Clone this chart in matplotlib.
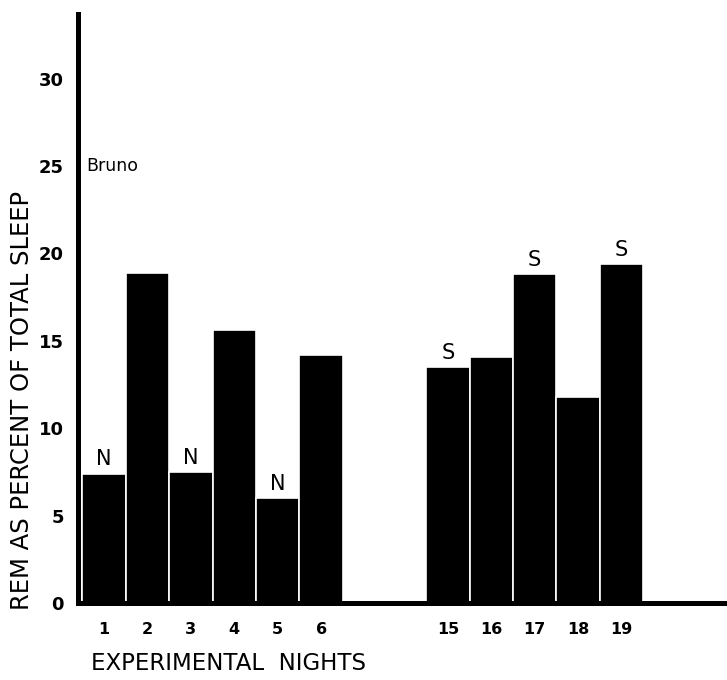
import matplotlib.pyplot as plt

# ── Data ─────────────────────────────────────────────────────────────────────
nights_a = ["1", "2", "3", "4", "5", "6"]
rem_a    = [7.4, 18.9, 7.5, 15.6, 6.0, 14.2]
marks_a  = ["N", "", "N", "", "N", ""]

nights_b = ["15", "16", "17", "18", "19"]
rem_b    = [13.5, 14.1, 18.8, 11.8, 19.4]
marks_b  = ["S", "", "S", "", "S"]

GAP = 2.92   # blank space between the two groups, in bar widths

pos = list(range(len(nights_a))) + [len(nights_a) - 1 + GAP + i for i in range(len(nights_b))]
labels = nights_a + nights_b
values = rem_a + rem_b
marks  = marks_a + marks_b

# ── Figure ───────────────────────────────────────────────────────────────────
fig = plt.figure(figsize=(7.27, 6.8), dpi=100)
ax = fig.add_axes([78 / 727, 77 / 680, 649 / 727, 589 / 680])

ax.bar(pos, values, width=1.0, color="black", edgecolor="white", linewidth=1.2)

for x, v, m in zip(pos, values, marks):
    if m:
        ax.text(x, v + 0.25, m, ha="center", va="bottom", fontsize=15)

ax.set_xlim(-0.6, 14.35)
ax.set_ylim(0, 33.7)

ax.set_yticks([0, 5, 10, 15, 20, 25, 30])
ax.set_yticklabels(["0", "5", "10", "15", "20", "25", "30"], fontweight="bold", fontsize=13)
ax.set_xticks(pos)
ax.set_xticklabels(labels, fontweight="bold", fontsize=11.5)
ax.tick_params(axis="both", length=0)
ax.tick_params(axis="y", pad=10)
ax.tick_params(axis="x", pad=14)

for side in ("top", "right"):
    ax.spines[side].set_visible(False)
ax.spines["left"].set_linewidth(3.6)
ax.spines["bottom"].set_linewidth(3.6)

ax.text(0.012, 25, "Bruno", transform=ax.get_yaxis_transform(),
        ha="left", va="center", fontsize=12.5)

fig.text(22 / 727, 1 - 400 / 680, "REM AS PERCENT OF TOTAL SLEEP",
         rotation=90, ha="center", va="center", fontsize=17.5)
fig.text(228 / 727, 1 - 664 / 680, "EXPERIMENTAL  NIGHTS",
         ha="center", va="center", fontsize=16.5)

fig.savefig("out.png", dpi=100)
